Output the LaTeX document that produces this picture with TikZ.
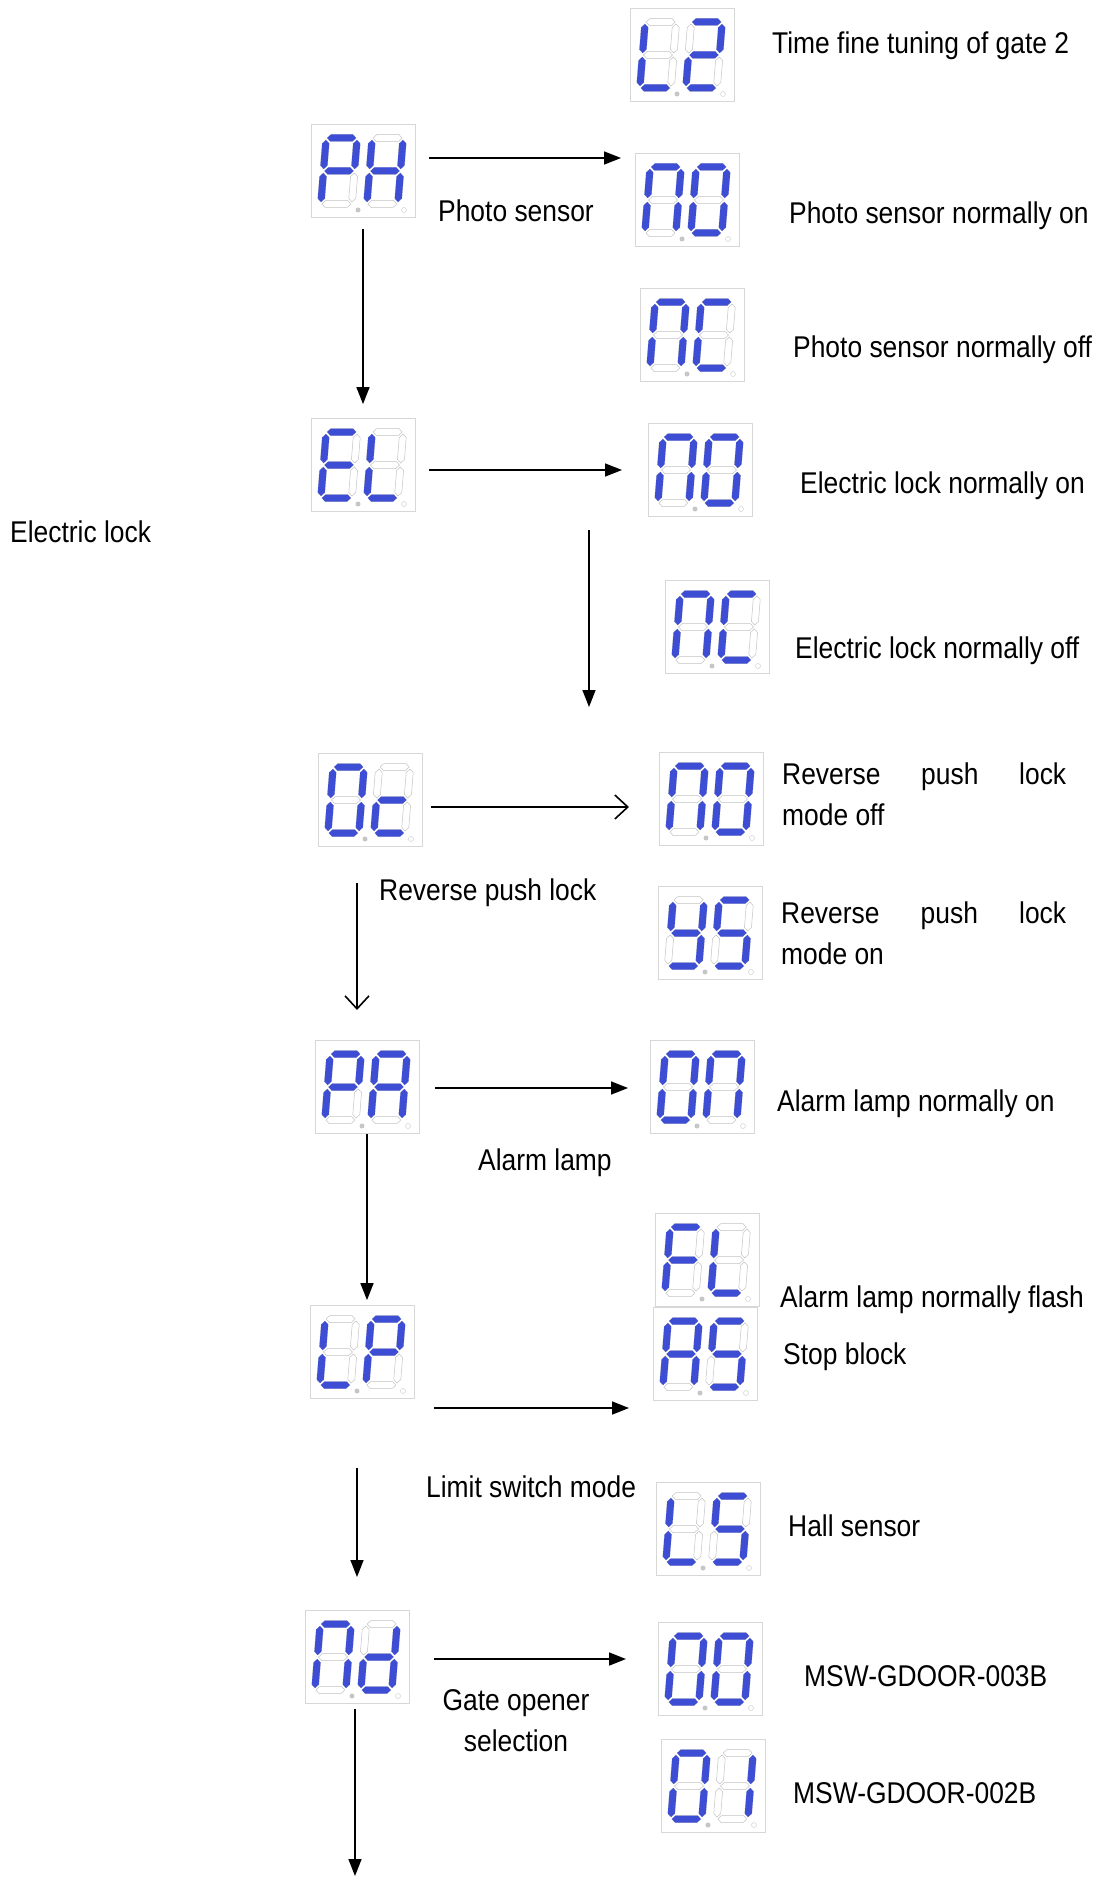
\documentclass[tikz,border=0pt]{standalone}
\usepackage{fontspec}
\setmainfont{Liberation Sans}[FakeStretch=0.88]
\usepackage{xcolor}
\usepackage{tikz}
\usetikzlibrary{arrows.meta}
\definecolor{segblue}{RGB}{62,78,212}
\definecolor{segoff}{RGB}{195,195,195}
\definecolor{boxgray}{RGB}{215,215,215}

% two digit display: name, position, segments of digit 1, segments of digit 2
\newcommand{\segdisp}[4]{%
  \node[dispbox] (#1) at (#2) {};
  \foreach \dx/\segs in {-24/{#3},22/{#4}} {
    \begin{scope}[shift={(#1.center)}, y=1pt, xshift=\dx, xslant=0.08]
      \foreach \s in {a,b,c,d,e,f,g}
        \draw[segoff, line width=0.5pt, seg \s] (-14.5,0) -- (-11,3.5) -- (11,3.5) -- (14.5,0) -- (11,-3.5) -- (-11,-3.5) -- cycle;
      \foreach \s in \segs
        \fill[segblue, seg \s] (-14.5,0) -- (-11,3.5) -- (11,3.5) -- (14.5,0) -- (11,-3.5) -- (-11,-3.5) -- cycle;
    \end{scope}
  }
  \fill[gray!45] ([shift={(-5,39)}]#1.center) circle (2.5pt);
  \draw[gray!35, line width=0.5pt] ([shift={(41,39)}]#1.center) circle (2.5pt);
}

\begin{document}
\begin{tikzpicture}[x=1pt, y=-1pt,
  dispbox/.style={draw=boxgray, line width=0.8pt, fill=white,
    minimum width=104pt, minimum height=93pt, inner sep=0pt},
  seg a/.style={shift={(0,33)}},
  seg d/.style={shift={(0,-33)}},
  seg g/.style={},
  seg b/.style={shift={(15.5,16.5)}, rotate=90},
  seg c/.style={shift={(15.5,-16.5)}, rotate=90},
  seg e/.style={shift={(-15.5,-16.5)}, rotate=90},
  seg f/.style={shift={(-15.5,16.5)}, rotate=90},
  lbl/.style={anchor=mid west, inner sep=0pt, yshift=-8pt},
  lbl2/.style={anchor=west, inner sep=0pt, align=left},
  arr/.style={-{Triangle[length=17pt,width=13pt]}, line width=1.6pt},
  openarr/.style={-{Straight Barb[length=13pt,width=24pt]}, line width=1.6pt},
  font=\fontsize{30}{41}\selectfont]
  \fill[white] (0,0) rectangle (1101,1878);
  \useasboundingbox (0,0) rectangle (1101,1878);

  % displays
  \segdisp{L2}{682,55}{f,e,d}{a,b,g,e,d}
  \segdisp{PH}{363,171}{a,b,f,g,e}{f,b,g,e,c}
  \segdisp{PHno}{687,200}{a,b,c,e,f}{a,b,c,d,e,f}
  \segdisp{PHnc}{692,335}{a,b,c,e,f}{a,f,e,d}
  \segdisp{EL}{363,465}{a,f,g,e,d}{f,e,d}
  \segdisp{ELno}{700,470}{a,b,c,e,f}{a,b,c,d,e,f}
  \segdisp{ELnc}{717,627}{a,b,c,e,f}{a,f,e,d}
  \segdisp{Oc}{370,800}{a,b,c,d,e,f}{g,e,d}
  \segdisp{Ocno}{711,799}{a,b,c,e,f}{a,b,c,d,e,f}
  \segdisp{Ocys}{710,933}{f,b,g,c,d}{a,f,g,c,d}
  \segdisp{PA}{367,1087}{a,b,f,g,e}{a,b,c,e,f,g}
  \segdisp{PAon}{702,1087}{a,b,c,d,e,f}{a,b,c,e,f}
  \segdisp{PAfl}{707,1260}{a,f,g,e}{f,e,d}
  \segdisp{LP}{362,1352}{f,e,d}{a,b,f,g,e}
  \segdisp{LPas}{705,1354}{a,b,c,e,f,g}{a,f,g,c,d}
  \segdisp{LPls}{708,1529}{f,e,d}{a,f,g,c,d}
  \segdisp{nd}{357,1657}{a,b,c,e,f}{b,c,g,e,d}
  \segdisp{ndoo}{710,1669}{a,b,c,d,e,f}{a,b,c,d,e,f}
  \segdisp{ndoi}{713,1786}{a,b,c,d,e,f}{b,c}

  % arrow ends
  \coordinate (PH-r) at (429,158);
  \coordinate (PHno-l) at (621,158);
  \coordinate (EL-r) at (429,470);
  \coordinate (ELno-l) at (622,470);
  \coordinate (lock-top) at (589,530);
  \coordinate (lock-bot) at (589,707);
  \coordinate (Oc-r) at (431,807);
  \coordinate (Ocno-l) at (629,807);
  \coordinate (Oc-d) at (357,883);
  \coordinate (PA-u) at (357,1010);
  \coordinate (PA-r) at (435,1088);
  \coordinate (PAon-l) at (628,1088);
  \coordinate (LP-r) at (434,1408);
  \coordinate (LPas-l) at (629,1408);
  \coordinate (LP-d) at (357,1468);
  \coordinate (nd-u) at (357,1577);
  \coordinate (nd-r) at (434,1659);
  \coordinate (ndoo-l) at (626,1659);
  \coordinate (end) at (355,1876);

  % arrows
  \draw[arr] (PH-r) -- (PHno-l);
  \draw[arr, shorten <=11pt, shorten >=14pt] (PH) -- (EL);
  \draw[arr] (EL-r) -- (ELno-l);
  \draw[arr] (lock-top) -- (lock-bot);
  \draw[openarr] (Oc-r) -- (Ocno-l);
  \draw[openarr] (Oc-d) -- (PA-u);
  \draw[arr] (PA-r) -- (PAon-l);
  \draw[arr, shorten >=5pt] (PA.south) -- (PA.south |- LP.north);
  \draw[arr] (LP-r) -- (LPas-l);
  \draw[arr] (LP-d) -- (nd-u);
  \draw[arr] (nd-r) -- (ndoo-l);
  \draw[arr, shorten <=5pt] (nd.south -| end) -- (end);

  % labels
  \node[lbl] (t-L2) at (772,43) {Time fine tuning of gate 2};
  \node[lbl] (t-PH) at (438,211) {Photo sensor};
  \node[lbl] (t-PHno) at (789,213) {Photo sensor normally on};
  \node[lbl] (t-PHnc) at (793,347) {Photo sensor normally off};
  \node[lbl] (t-EL) at (10,532) {Electric lock};
  \node[lbl] (t-ELno) at (800,483) {Electric lock normally on};
  \node[lbl] (t-ELnc) at (795,648) {Electric lock normally off};
  \node[lbl2] (t-Ocno) at (782,794) {\makebox[284pt][s]{Reverse push lock}\\mode off};
  \node[lbl] (t-Oc) at (379,890) {Reverse push lock};
  \node[lbl2] (t-Ocys) at (781,933) {\makebox[285pt][s]{Reverse push lock}\\mode on};
  \node[lbl] (t-PAon) at (777,1101) {Alarm lamp normally on};
  \node[lbl] (t-PA) at (478,1160) {Alarm lamp};
  \node[lbl] (t-PAfl) at (780,1297) {Alarm lamp normally flash};
  \node[lbl] (t-LPas) at (783,1354) {Stop block};
  \node[lbl] (t-LP) at (426,1487) {Limit switch mode};
  \node[lbl] (t-LPls) at (788,1526) {Hall sensor};
  \node[lbl] (t-ndoo) at (804,1676) {MSW-GDOOR-003B};
  \node[align=center, inner sep=0pt] (t-nd) at (516,1721) {Gate opener\\selection};
  \node[lbl] (t-ndoi) at (793,1793) {MSW-GDOOR-002B};
\end{tikzpicture}
\end{document}
